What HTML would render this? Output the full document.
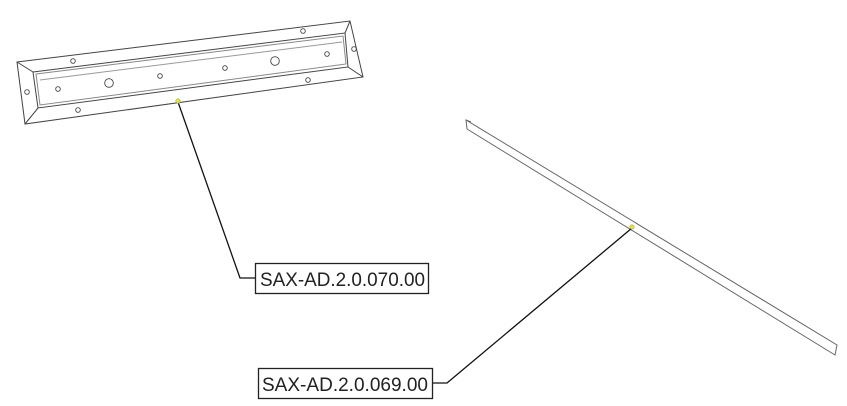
<!DOCTYPE html>
<html><head><meta charset="utf-8"><style>
html,body{margin:0;padding:0;background:#fff;}
svg{display:block}
text{font-family:"Liberation Sans",sans-serif;}
</style></head><body>
<svg width="847" height="406" viewBox="0 0 847 406" xmlns="http://www.w3.org/2000/svg">
<g fill="none" stroke="#444" stroke-width="1">
<polygon points="17,62 350,21 363,77 25,124"/>
<polygon points="33,72 345,33 348,67 38,108"/>
<polygon points="36,74 343,36 346,64 40,105" stroke="#888"/>
<line x1="17" y1="62" x2="33" y2="72"/>
<line x1="350" y1="21" x2="345" y2="33"/>
<line x1="363" y1="77" x2="348" y2="67"/>
<line x1="25" y1="124" x2="38" y2="108"/>
<line x1="40" y1="80" x2="342" y2="42" stroke="#999"/>
<g stroke-width="0.9">
<circle cx="73" cy="61" r="2.3"/><circle cx="303" cy="31" r="2.3"/><circle cx="354" cy="49" r="2.3"/>
<circle cx="327" cy="54" r="2.3"/><circle cx="275" cy="61" r="4.3"/><circle cx="225" cy="68" r="2.3"/>
<circle cx="160" cy="76" r="2.3"/><circle cx="109" cy="83" r="4.3"/><circle cx="58" cy="89" r="2.3"/>
<circle cx="27" cy="92" r="2.3"/><circle cx="78" cy="110" r="2.3"/><circle cx="308" cy="80" r="2.3"/>
</g>
<polygon points="466,120 837,345 835,355 467,129" stroke="#666"/>
<line x1="466" y1="120" x2="471" y2="122" stroke="#666"/>
</g>
<polyline points="178,102 240,278 255,278" fill="none" stroke="#111" stroke-width="1.3"/>
<polyline points="632,228 447,383 432,383" fill="none" stroke="#111" stroke-width="1.3"/>
<circle cx="178" cy="101" r="2.2" fill="#dde060" stroke="#aab030" stroke-width="0.6"/>
<circle cx="632" cy="227" r="2.2" fill="#dde060" stroke="#aab030" stroke-width="0.6"/>
<rect x="255.5" y="263.5" width="173" height="30" fill="#fff" stroke="#222" stroke-width="1.3"/>
<text x="260" y="286" font-size="19" fill="#222" textLength="165" lengthAdjust="spacingAndGlyphs">SAX-AD.2.0.070.00</text>
<rect x="258.5" y="368.5" width="174" height="30" fill="#fff" stroke="#222" stroke-width="1.3"/>
<text x="262" y="391" font-size="19" fill="#222" textLength="166" lengthAdjust="spacingAndGlyphs">SAX-AD.2.0.069.00</text>
</svg>
</body></html>
